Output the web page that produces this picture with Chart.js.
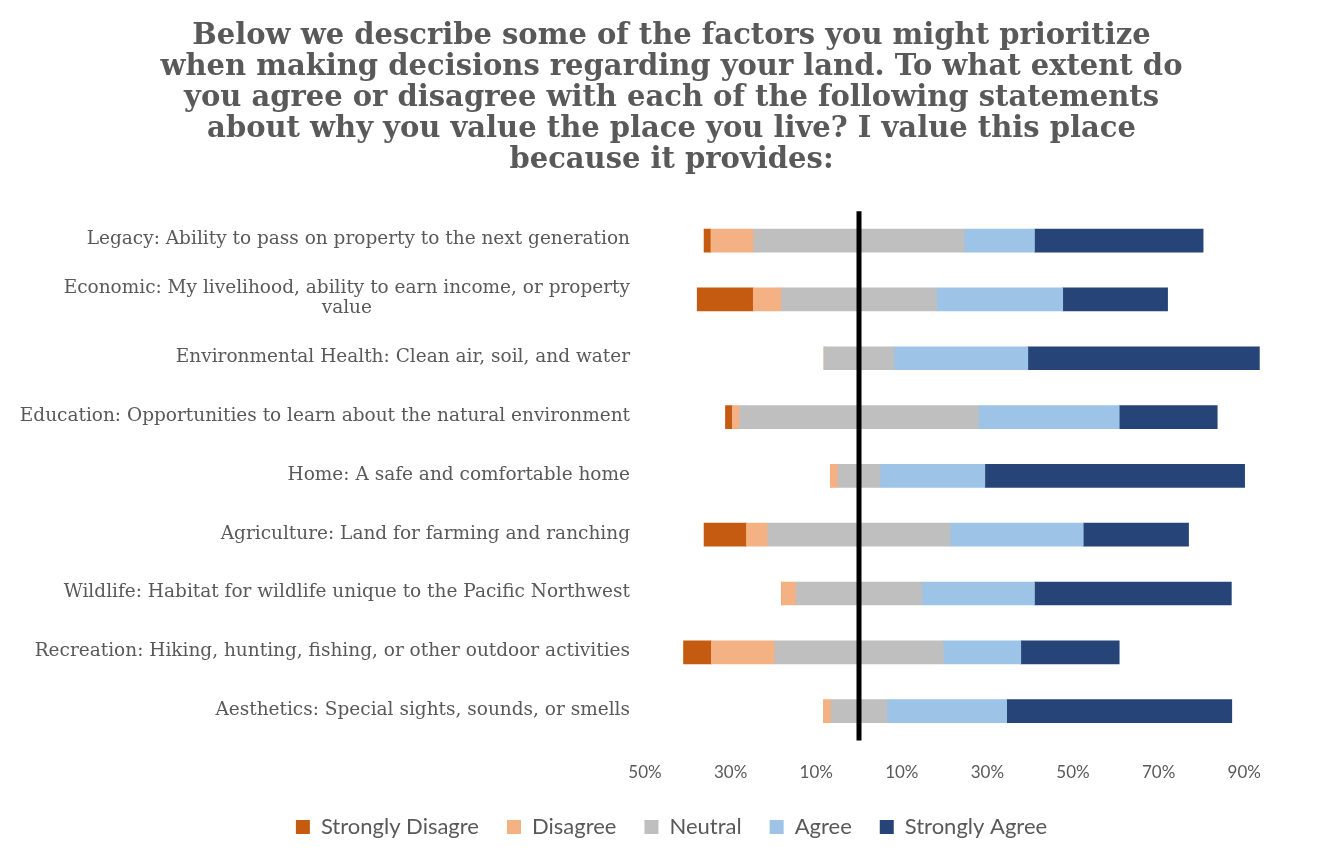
<!DOCTYPE html>
<html>
<head>
<meta charset="utf-8">
<script src="https://cdn.jsdelivr.net/npm/chart.js@4.4.1/dist/chart.umd.min.js"></script>
<style>
  html, body { margin: 0; padding: 0; background: #ffffff; }
  #wrap { position: relative; width: 1343px; height: 860px; }
</style>
</head>
<body>
<div id="wrap"><canvas id="chart" width="1343" height="860"></canvas></div>
<script>
// Statements (y categories); multi-line entries wrap as shown
const categories = [
  ['Legacy: Ability to pass on property to the next generation'],
  ['Economic: My livelihood, ability to earn income, or property', 'value'],
  ['Environmental Health: Clean air, soil, and water'],
  ['Education: Opportunities to learn about the natural environment'],
  ['Home: A safe and comfortable home'],
  ['Agriculture: Land for farming and ranching'],
  ['Wildlife: Habitat for wildlife unique to the Pacific Northwest'],
  ['Recreation: Hiking, hunting, fishing, or other outdoor activities'],
  ['Aesthetics: Special sights, sounds, or smells']
];

// Response shares, percent
const stronglyDisagree = [1.6, 13.1, 0, 1.6, 0, 9.9, 0, 6.5, 0];
const disagree         = [10.0, 6.6, 0, 1.7, 1.8, 5.0, 3.4, 14.8, 1.7];
const neutral          = [49.2, 36.2, 16.3, 55.8, 9.8, 42.6, 29.4, 39.4, 13.0];
const agree            = [16.4, 29.5, 31.3, 32.9, 24.5, 31.1, 26.3, 18.1, 28.0];
const stronglyAgree    = [39.4, 24.5, 54.1, 22.9, 60.7, 24.6, 46.0, 23.0, 52.6];

// Axis tick values (labels show absolute value)
const tickValues = [-50, -30, -10, 10, 30, 50, 70, 90];

const seriesNames = ['Strongly Disagre', 'Disagree', 'Neutral', 'Agree', 'Strongly Agree'];
const seriesColors = ['#C55A11', '#F4B183', '#BFBFBF', '#9DC3E6', '#264478'];

const titleLines = [
  'Below we describe some of the factors you might prioritize',
  'when making decisions regarding your land. To what extent do',
  'you agree or disagree with each of the following statements',
  'about why you value the place you live? I value this place',
  'because it provides:'
];

const neg = arr => arr.map(v => -v);
const half = arr => arr.map(v => v / 2);

// Stacking order: negative side builds outward from zero (neutral half, disagree, strongly disagree),
// positive side builds outward (neutral half, agree, strongly agree).
const datasets = [
  { label: seriesNames[2], data: neg(half(neutral)), backgroundColor: seriesColors[2], legendOrder: 2 },
  { label: seriesNames[1], data: neg(disagree), backgroundColor: seriesColors[1], legendOrder: 1 },
  { label: seriesNames[0], data: neg(stronglyDisagree), backgroundColor: seriesColors[0], legendOrder: 0 },
  { label: seriesNames[2] + ' ', data: half(neutral), backgroundColor: seriesColors[2], legendOrder: 9, hideInLegend: true },
  { label: seriesNames[3], data: agree, backgroundColor: seriesColors[3], legendOrder: 3 },
  { label: seriesNames[4], data: stronglyAgree, backgroundColor: seriesColors[4], legendOrder: 4 }
].map(d => Object.assign(d, { stack: 's', barThickness: 23, borderWidth: 0 }));

const LABEL_RIGHT = 630;

// Thick vertical line at zero
const zeroLine = {
  id: 'zeroLine',
  afterDatasetsDraw(chart) {
    const { ctx, chartArea, scales } = chart;
    const x = scales.x.getPixelForValue(0);
    ctx.save();
    ctx.strokeStyle = '#000000';
    ctx.lineWidth = 5;
    ctx.beginPath();
    ctx.moveTo(x, chartArea.top);
    ctx.lineTo(x, chartArea.bottom);
    ctx.stroke();
    ctx.restore();
  }
};

// Category labels: each block right-aligned, lines centred within the block
const categoryLabels = {
  id: 'categoryLabels',
  afterDraw(chart) {
    const { ctx, scales } = chart;
    const y = scales.y;
    ctx.save();
    ctx.font = '18.5px "DejaVu Serif", serif';
    ctx.fillStyle = '#595959';
    ctx.textBaseline = 'middle';
    ctx.textAlign = 'center';
    const lh = 20;
    categories.forEach((lines, i) => {
      const w = Math.max(...lines.map(l => ctx.measureText(l).width));
      const cx = LABEL_RIGHT - w / 2;
      const cy = y.getPixelForTick(i);
      lines.forEach((l, j) => {
        ctx.fillText(l, cx, cy + (j - (lines.length - 1) / 2) * lh - 1);
      });
    });
    ctx.restore();
  }
};

new Chart(document.getElementById('chart'), {
  type: 'bar',
  data: { labels: categories.map(c => c.join(' ')), datasets },
  plugins: [zeroLine, categoryLabels],
  options: {
    indexAxis: 'y',
    responsive: false,
    animation: false,
    layout: { padding: { left: 56, right: 56, top: 21, bottom: 12 } },
    plugins: {
      title: {
        display: true,
        text: titleLines,
        color: '#595959',
        font: { family: '"DejaVu Serif", serif', size: 29, weight: 'bold', lineHeight: 1.07 },
        padding: { top: 0, bottom: 35 }
      },
      legend: {
        position: 'bottom',
        labels: {
          color: '#595959',
          font: { family: 'Lato, "Open Sans", sans-serif', size: 22 },
          boxWidth: 14,
          boxHeight: 14,
          padding: 28,
          filter: (item, data) => !data.datasets[item.datasetIndex].hideInLegend,
          sort: (a, b, data) => data.datasets[a.datasetIndex].legendOrder - data.datasets[b.datasetIndex].legendOrder
        }
      },
      tooltip: { enabled: false }
    },
    scales: {
      x: {
        stacked: true,
        min: -50,
        max: 100,
        afterBuildTicks: axis => { axis.ticks = tickValues.map(v => ({ value: v })); },
        afterFit: scale => { scale.height -= 8; },
        grid: { display: false },
        border: { display: false },
        ticks: {
          color: '#595959',
          font: { family: 'Lato, "Open Sans", sans-serif', size: 17 },
          padding: 13.5,
          maxRotation: 0,
          autoSkip: false,
          callback: v => Math.abs(v) + '%'
        }
      },
      y: {
        stacked: true,
        grid: { display: false },
        border: { display: false },
        ticks: { display: false },
        afterFit: scale => { scale.width = 589; }
      }
    }
  }
});
</script>
</body>
</html>
